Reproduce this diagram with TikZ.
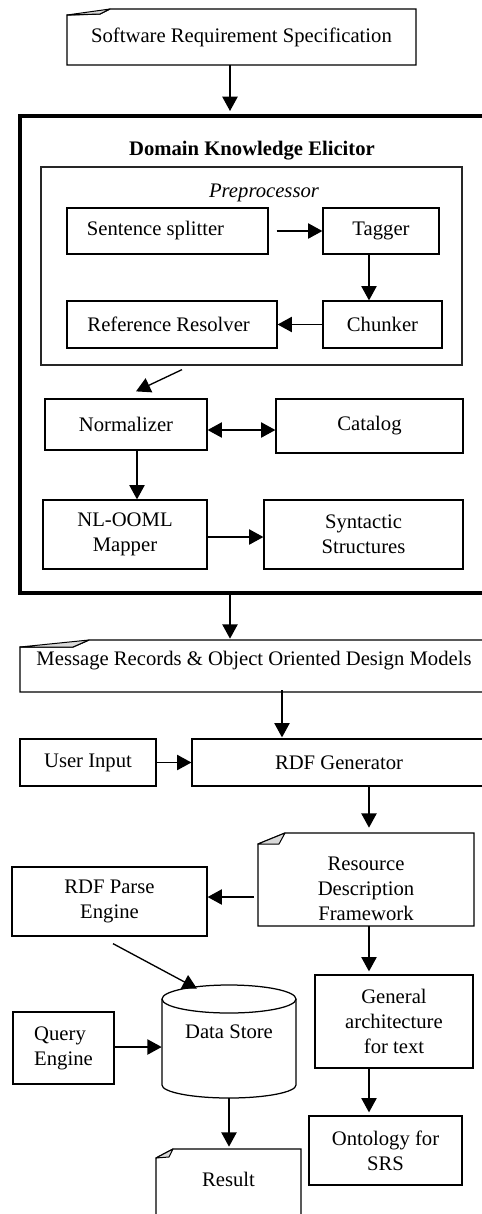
\documentclass[tikz,border=0pt]{standalone}
\usepackage{fontspec}
\setmainfont{Liberation Serif}
\usetikzlibrary{arrows.meta,fit,calc}
\newcommand\fsz{\fontsize{12.4}{15}\selectfont}
\begin{document}
\begin{tikzpicture}[x=0.6pt,y=-0.6pt,
  every node/.style={font=\fsz},
  every label/.style={align=center, inner sep=0pt},
  box/.style={draw, line width=0.75pt, inner sep=0pt},
  ghost/.style={inner sep=0pt},
  outl/.style={draw, line width=0.75pt, line join=miter},
  fold/.style={draw, line width=0.6pt, fill=gray!30, line join=round},
  arr/.style={line width=0.8pt, -{Triangle[length=8.6pt,width=9.2pt]}},
  dbl/.style={line width=0.8pt, {Triangle[length=8.6pt,width=9.2pt]}-{Triangle[length=8.6pt,width=9.2pt]}},
]
\useasboundingbox (0,0) rectangle (482,1214);
\clip (0,0) rectangle (482,1214);

% helper coordinates
\coordinate (x113) at (113,0);
\coordinate (x136) at (136,0);
\coordinate (x137) at (137,0);
\coordinate (x182) at (182,0);
\coordinate (x197) at (197,0);
\coordinate (x229) at (229,0);
\coordinate (x230) at (230,0);
\coordinate (x282) at (282,0);
\coordinate (x369) at (369,0);
\coordinate (y430) at (0,430);
\coordinate (y537) at (0,537);
\coordinate (y897) at (0,897);
\coordinate (y1047) at (0,1047);

% Software Requirement Specification (note)
\node[ghost, fit={(67,9)(416,65)}, label={center:Software Requirement Specification}] (srs) {};
\path[outl] (67,65) -- (67,15) -- (100,14) -- (110,9) -- (416,9) -- (416,65) -- cycle;
\path[fold] (67,15) -- (110,9) -- (100,14) -- cycle;

% Domain Knowledge Elicitor
\node[draw, line width=2.4pt, inner sep=0pt, fit={(20,116)(492,593)}] (dke) {};
\node[anchor=base, font=\fsz\bfseries] (dket) at (252,155) {Domain Knowledge Elicitor};

% Preprocessor
\node[box, draw=black!85, fit={(41,167)(462,365)}] (pre) {};
\node[anchor=base, font=\fsz\itshape] (pret) at (264,197) {Preprocessor};

\node[box, fit={(67,208)(268,254)}, label={[xshift=-7.2pt]center:Sentence splitter}] (ss) {};
\node[box, fit={(323,208)(439,254)}, label={center:Tagger}] (tag) {};
\node[box, fit={(323,301)(442,348)}, label={center:Chunker}] (chk) {};
\node[box, fit={(67,301)(277,348)}, label={[xshift=-2pt]center:Reference Resolver}] (rr) {};

\node[box, fit={(45,399)(207,450)}, label={center:Normalizer}] (norm) {};
\node[box, fit={(276,399)(463,453)}, label={center:Catalog}] (cat) {};
\node[box, fit={(43,500)(207,569)}, label={center:NL-OOML\\Mapper}] (nl) {};
\node[box, fit={(264,500)(463,569)}, label={center:Syntactic\\Structures}] (syn) {};

% Message records (note)
\node[ghost, fit={(20,640)(488,692)}, label={[yshift=3pt]center:Message Records \& Object Oriented Design Models}] (msg) {};
\path[outl] (20,692) -- (20,647) -- (73,647) -- (89,640) -- (495,640) -- (495,692) -- cycle;
\path[fold] (20,647) -- (89,640) -- (73,647) -- cycle;

\node[box, fit={(20,739)(156,786)}, label={center:User Input}] (ui) {};
\node[box, fit={(192,739)(492,786)}, label={[xshift=-1.8pt]center:RDF Generator}] (gen) {};

% Resource Description Framework (note)
\node[ghost, fit={(258,833)(474,926)}, label={[yshift=-5.7pt]center:Resource\\Description\\Framework}] (rdf) {};
\path[outl] (258,926) -- (258,844) -- (285,833) -- (474,833) -- (474,926) -- cycle;
\path[fold] (258,844) -- (285,833) -- (279,844) -- cycle;

\node[box, fit={(12,867)(207,936)}, label={center:RDF Parse\\Engine}] (rpe) {};
\node[box, fit={(315,975)(473,1068)}, label={center:General\\architecture\\for text}] (gat) {};
\node[box, fit={(13,1012)(114,1084)}, label={[align=left]center:Query\\Engine}] (qe) {};
\node[box, fit={(309,1116)(462,1185)}, label={center:Ontology for\\SRS}] (ont) {};

% Data Store (cylinder)
\node[ghost, fit={(162,985)(296,1098)}, label={[yshift=5.7pt]center:Data Store}] (ds) {};
\draw[line width=0.75pt] (162,999) -- (162,1085) arc[start angle=180, end angle=360, x radius=40.2pt, y radius=7.8pt] -- (296,999);
\draw[line width=0.75pt] (229,999) ellipse[x radius=40.2pt, y radius=8.4pt];

% Result (note)
\node[ghost, fit={(156,1149)(301,1230)}, label={[yshift=6.3pt]center:Result}] (res) {};
\path[outl] (156,1240) -- (156,1158) -- (173,1149) -- (301,1149) -- (301,1240);
\path[fold] (156,1158) -- (173,1149) -- (169,1157) -- cycle;

% connectors
\draw[arr] (srs.south -| x230) -- ($(dke.north -| x230)+(0,-3)$);
\draw[arr] ($(ss.east)+(8,0)$) -- (tag.west);
\draw[arr] (tag.south -| x369) -- (chk.north -| x369);
\draw[arr] (chk.west) -- (rr.east);
\draw[arr] ($(pre.south -| x182)+(0,4)$) -- ($(norm.north -| x136)+(0,-7)$);
\draw[dbl] (norm.east |- y430) -- (cat.west |- y430);
\draw[arr] (norm.south -| x137) -- (nl.north -| x137);
\draw[arr] (nl.east |- y537) -- (syn.west |- y537);
\draw[arr] (dke.south -| x230) -- ($(msg.north -| x230)+(0,-1)$);
\draw[arr] ($(msg.south -| x282)+(0,-2)$) -- ($(gen.north -| x282)+(0,-1)$);
\draw[arr] (ui.east) -- (gen.west);
\draw[arr] (gen.south -| x369) -- ($(rdf.north -| x369)+(0,-5)$);
\draw[arr] ($(rdf.west |- y897)+(-4,0)$) -- (rpe.east |- y897);
\draw[arr] ($(rpe.south -| x113)+(0,7)$) -- ($(ds.north -| x197)+(0,4)$);
\draw[arr] (rdf.south -| x369) -- ($(gat.north -| x369)+(0,-3)$);
\draw[arr] (qe.east |- y1047) -- (ds.west |- y1047);
\draw[arr] (ds.south -| x229) -- ($(res.north -| x229)+(0,-2)$);
\draw[arr] (gat.south -| x369) -- ($(ont.north -| x369)+(0,-3)$);
\end{tikzpicture}
\end{document}
